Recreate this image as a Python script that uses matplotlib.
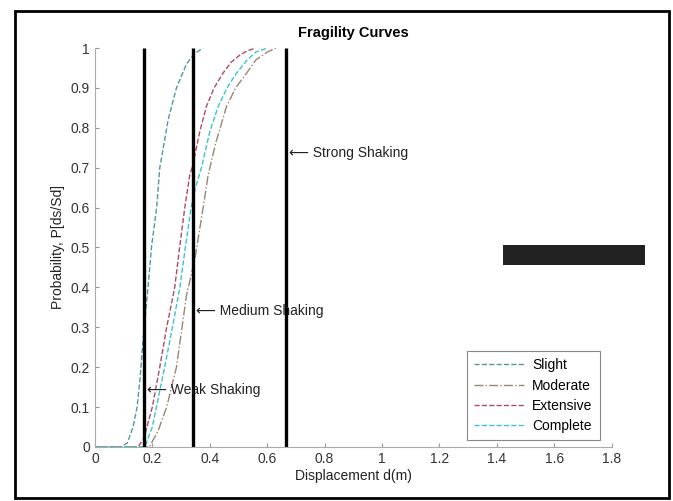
import matplotlib
matplotlib.use("Agg")
import matplotlib.pyplot as plt
from matplotlib.patches import Rectangle

plt.rcParams["font.family"] = ["Liberation Sans", "DejaVu Sans"]

# ---- data ----
slight_d = [0, 0.09, 0.113, 0.133, 0.147, 0.157, 0.168, 0.177, 0.185, 0.197, 0.215, 0.226, 0.255, 0.284, 0.319, 0.345, 0.376]
slight_p = [0, 0, 0.01, 0.05, 0.10, 0.17, 0.27, 0.34, 0.40, 0.50, 0.60, 0.70, 0.82, 0.90, 0.96, 0.985, 1.0]

moderate_d = [0, 0.19, 0.22, 0.25, 0.284, 0.319, 0.348, 0.377, 0.394, 0.42, 0.458, 0.49, 0.528, 0.56, 0.60, 0.63]
moderate_p = [0, 0, 0.04, 0.10, 0.20, 0.38, 0.47, 0.60, 0.68, 0.76, 0.853, 0.90, 0.937, 0.97, 0.99, 1.0]

extensive_d = [0, 0.15, 0.17, 0.20, 0.226, 0.25, 0.267, 0.278, 0.295, 0.313, 0.33, 0.342, 0.365, 0.388, 0.415, 0.446, 0.475, 0.504, 0.53, 0.56]
extensive_p = [0, 0, 0.02, 0.10, 0.20, 0.30, 0.36, 0.40, 0.50, 0.60, 0.68, 0.71, 0.79, 0.853, 0.90, 0.937, 0.965, 0.982, 0.993, 1.0]

complete_d = [0, 0.174, 0.20, 0.243, 0.27, 0.296, 0.315, 0.335, 0.35, 0.371, 0.40, 0.429, 0.46, 0.493, 0.53, 0.56, 0.60]
complete_p = [0, 0, 0.05, 0.20, 0.30, 0.40, 0.50, 0.60, 0.65, 0.70, 0.79, 0.853, 0.90, 0.937, 0.97, 0.99, 1.0]

shaking_d = [0.17, 0.34, 0.665]
shaking_labels = ["Weak Shaking", "Medium Shaking", "Strong Shaking"]
shaking_label_p = [0.143, 0.34, 0.737]

x_ticks = [0, 0.2, 0.4, 0.6, 0.8, 1, 1.2, 1.4, 1.6, 1.8]
x_tick_labels = ["0", "0.2", "0.4", "0.6", "0.8", "1", "1.2", "1.4", "1.6", "1.8"]
y_ticks = [0, 0.1, 0.2, 0.3, 0.4, 0.5, 0.6, 0.7, 0.8, 0.9, 1]
y_tick_labels = ["0", "0.1", "0.2", "0.3", "0.4", "0.5", "0.6", "0.7", "0.8", "0.9", "1"]

# ---- figure ----
fig = plt.figure(figsize=(6.73, 5.01), dpi=100)
ax = fig.add_axes([0.141, 0.108, 0.768, 0.796])

ax.plot(slight_d, slight_p, color="#4f9aa0", ls="--", lw=1.0, label="Slight")
ax.plot(moderate_d, moderate_p, color="#9a8670", ls="-.", lw=1.0, label="Moderate")
ax.plot(extensive_d, extensive_p, color="#b04a64", ls="--", lw=1.0, label="Extensive")
ax.plot(complete_d, complete_p, color="#3cc4cc", ls="--", lw=1.0, label="Complete")

for d in shaking_d:
    ax.plot([d, d], [0, 1], color="black", lw=2.4, solid_capstyle="butt")

for d, lab, p in zip(shaking_d, shaking_labels, shaking_label_p):
    ax.text(d + 0.012, p, "\u27f5 " + lab, fontsize=10, color="#222222",
            va="center", ha="left")

ax.set_xlim(0, 1.8)
ax.set_ylim(0, 1)
ax.set_xticks(x_ticks)
ax.set_xticklabels(x_tick_labels)
ax.set_yticks(y_ticks)
ax.set_yticklabels(y_tick_labels)
ax.tick_params(direction="in", length=3, color="#999999", labelsize=10,
               labelcolor="#333333")
for s in ["top", "right"]:
    ax.spines[s].set_visible(False)
for s in ["left", "bottom"]:
    ax.spines[s].set_color("#aaaaaa")
    ax.spines[s].set_linewidth(0.8)

ax.set_title("Fragility Curves", fontsize=10.5, fontweight="bold", pad=8)
ax.set_xlabel("Displacement d(m)", fontsize=10, color="#222222", labelpad=2)
ax.set_ylabel("Probability, P[ds/Sd]", fontsize=10, color="#222222", labelpad=4)

leg = ax.legend(loc="lower right", bbox_to_anchor=(0.99, 0.0), fontsize=10,
                frameon=True, fancybox=False, framealpha=1, edgecolor="#888888",
                handlelength=3.6, borderpad=0.5, labelspacing=0.45,
                handletextpad=0.6)
leg.get_frame().set_linewidth(0.8)

# scan frame and dark strip
fig.patches.append(Rectangle((15 / 673, 1 - 498 / 501), 654 / 673, 487 / 501,
                             transform=fig.transFigure, fill=False,
                             edgecolor="black", lw=2.0))
fig.patches.append(Rectangle((503 / 673, 1 - 265 / 501), 142 / 673, 20 / 501,
                             transform=fig.transFigure, facecolor="#222222",
                             edgecolor="none"))

fig.savefig("out.png", dpi=100)
